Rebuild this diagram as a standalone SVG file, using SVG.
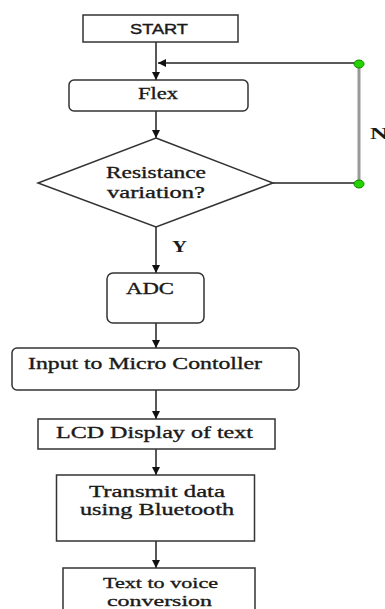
<svg xmlns="http://www.w3.org/2000/svg" width="385" height="609" viewBox="0 0 385 609">
<defs>
<marker id="ah" markerUnits="userSpaceOnUse" markerWidth="10" markerHeight="10" refX="8" refY="4" orient="auto">
<path d="M0,0 L8,4 L0,8 Z" fill="#111"/>
</marker>
<style>
.box{fill:#fff;stroke:#333;stroke-width:1.5}
.t{font-family:"Liberation Serif","Times New Roman",serif;font-size:17px;fill:#1a1a1a;stroke:#1a1a1a;stroke-width:0.35}
.sm{font-size:15.5px}
.s{font-family:"Liberation Sans",Arial,sans-serif;font-size:14px;fill:#1a1a1a;stroke:#1a1a1a;stroke-width:0.4}
.b{font-family:"Liberation Serif","Times New Roman",serif;font-size:17px;font-weight:bold;fill:#1a1a1a}
.c{fill:none;stroke:#222;stroke-width:1.5}
.dot{fill:#22d400;stroke:#118800;stroke-width:1}
</style>
</defs>
<rect width="385" height="609" fill="#fff"/>
<g id="connectors">
<line class="c" x1="156" y1="42" x2="156" y2="80" marker-end="url(#ah)"/>
<line class="c" x1="359" y1="63" x2="158" y2="63" marker-end="url(#ah)"/>
<line x1="359" y1="64" x2="359" y2="184" stroke="#999" stroke-width="3"/>
<line class="c" x1="273" y1="183" x2="359" y2="183"/>
<line class="c" x1="156" y1="111" x2="156" y2="138" marker-end="url(#ah)"/>
<line class="c" x1="156" y1="227" x2="156" y2="273" marker-end="url(#ah)"/>
<line class="c" x1="156" y1="323" x2="156" y2="348" marker-end="url(#ah)"/>
<line class="c" x1="156" y1="390" x2="156" y2="419" marker-end="url(#ah)"/>
<line class="c" x1="156" y1="449" x2="156" y2="475" marker-end="url(#ah)"/>
<line class="c" x1="156" y1="541" x2="156" y2="568" marker-end="url(#ah)"/>
<ellipse class="dot" cx="359" cy="64" rx="5" ry="4"/>
<ellipse class="dot" cx="359" cy="184" rx="5" ry="4"/>
<text class="b" x="172" y="252" textLength="15" lengthAdjust="spacingAndGlyphs">Y</text>
<text class="b" x="370" y="139" textLength="18" lengthAdjust="spacingAndGlyphs">N</text>
</g>
<g id="start">
<rect class="box" x="83" y="15" width="155" height="27"/>
<text class="s" x="130" y="34" textLength="58" lengthAdjust="spacingAndGlyphs">START</text>
</g>
<g id="flex">
<rect class="box" x="69" y="80" width="179" height="31" rx="5"/>
<text class="t" x="138" y="99" textLength="40" lengthAdjust="spacingAndGlyphs">Flex</text>
</g>
<g id="decision">
<polygon class="box" points="156,138 273,183 156,227 38,183"/>
<text class="t" x="106" y="178" textLength="100" lengthAdjust="spacingAndGlyphs">Resistance</text>
<text class="t" x="107" y="198" textLength="98" lengthAdjust="spacingAndGlyphs">variation?</text>
</g>
<g id="adc">
<rect class="box" x="107" y="273" width="97" height="50" rx="6"/>
<text class="t" x="126" y="294" textLength="48" lengthAdjust="spacingAndGlyphs">ADC</text>
</g>
<g id="input">
<rect class="box" x="12" y="348" width="287" height="42" rx="5"/>
<text class="t" x="28" y="369" textLength="234" lengthAdjust="spacingAndGlyphs">Input to Micro Contoller</text>
</g>
<g id="lcd">
<rect class="box" x="38" y="419" width="237" height="30"/>
<text class="t" x="56" y="438" textLength="197" lengthAdjust="spacingAndGlyphs">LCD Display of text</text>
</g>
<g id="transmit">
<rect class="box" x="56.5" y="475" width="198" height="66"/>
<text class="t" x="89" y="497" textLength="136" lengthAdjust="spacingAndGlyphs">Transmit data</text>
<text class="t" x="80" y="515" textLength="154" lengthAdjust="spacingAndGlyphs">using Bluetooth</text>
</g>
<g id="voice">
<rect class="box" x="63" y="568" width="192" height="60"/>
<text class="t sm" x="103" y="588" textLength="115" lengthAdjust="spacingAndGlyphs">Text to voice</text>
<text class="t sm" x="107" y="606" textLength="105" lengthAdjust="spacingAndGlyphs">conversion</text>
</g>
</svg>
